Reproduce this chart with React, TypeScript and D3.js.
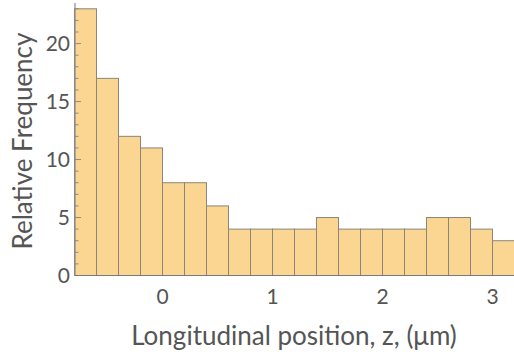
import React, { useRef, useEffect } from "react";
import * as d3 from "d3";

// bin left edges (µm) and counts
const binStarts = [-0.8, -0.6, -0.4, -0.2, 0, 0.2, 0.4, 0.6, 0.8, 1.0, 1.2, 1.4, 1.6, 1.8, 2.0, 2.2, 2.4, 2.6, 2.8, 3.0];
const counts = [23, 17, 12, 11, 8, 8, 6, 4, 4, 4, 4, 5, 4, 4, 4, 4, 5, 5, 4, 3];
const binWidth = 0.2;
const xTicks = [0, 1, 2, 3];
const yTicks = [0, 5, 10, 15, 20];

function App() {
    const svgRef = useRef<SVGSVGElement>(null);

    useEffect(() => {
        const width = 514, height = 355;
        const margin = { top: 3, right: 0, bottom: 78, left: 75 };
        const font = "Lato, 'Open Sans', sans-serif";
        const textColor = "#555";
        const axisColor = "#8a8a8a";

        const x = d3.scaleLinear()
            .domain([-0.8, 3.2])
            .range([margin.left - 0.5, width + 0.5]);

        const y = d3.scaleLinear()
            .domain([0, 23.5])
            .range([height - margin.bottom - 1.5, margin.top]);

        const svg = d3.select(svgRef.current);
        svg.selectAll("*").remove();
        svg.attr("width", width).attr("height", height);

        const data = binStarts.map((s, i) => ({ x0: s, x1: s + binWidth, n: counts[i] }));

        svg.append("g")
            .selectAll("rect")
            .data(data)
            .join("rect")
                .attr("x", d => x(d.x0))
                .attr("y", d => y(d.n))
                .attr("width", d => x(d.x1) - x(d.x0))
                .attr("height", d => y(0) - y(d.n))
                .attr("fill", "#fbd692")
                .attr("stroke", "#8c8578")
                .attr("stroke-width", 1);

        // y axis: line, minor ticks every 1, major every 5, pointing inward
        const ax = svg.append("g");
        ax.append("line")
            .attr("x1", margin.left).attr("x2", margin.left)
            .attr("y1", y(23.5)).attr("y2", y(0))
            .attr("stroke", axisColor).attr("stroke-width", 1.2);

        ax.selectAll(".minor")
            .data(d3.range(0, 24))
            .join("line")
                .attr("x1", margin.left)
                .attr("x2", d => margin.left + (d % 5 === 0 ? 6 : 3.5))
                .attr("y1", d => y(d))
                .attr("y2", d => y(d))
                .attr("stroke", axisColor)
                .attr("stroke-width", 1);

        ax.selectAll(".ylab")
            .data(yTicks)
            .join("text")
                .attr("x", margin.left - 5)
                .attr("y", d => y(d))
                .attr("dy", "0.36em")
                .attr("text-anchor", "end")
                .attr("font-family", font)
                .attr("font-size", 21)
                .attr("fill", textColor)
                .text(d => d);

        // x axis line
        ax.append("line")
            .attr("x1", margin.left).attr("x2", width)
            .attr("y1", y(0)).attr("y2", y(0))
            .attr("stroke", "#7a7a7a").attr("stroke-width", 1.2);

        ax.selectAll(".xlab")
            .data(xTicks)
            .join("text")
                .attr("x", d => x(d))
                .attr("y", y(0) + 28)
                .attr("text-anchor", "middle")
                .attr("font-family", font)
                .attr("font-size", 21)
                .attr("fill", textColor)
                .text(d => d);

        svg.append("text")
            .attr("x", 294)
            .attr("y", 345)
            .attr("text-anchor", "middle")
            .attr("font-family", font)
            .attr("font-size", 26)
            .attr("fill", textColor)
            .text("Longitudinal position, z, (\u03bcm)");

        svg.append("text")
            .attr("transform", "translate(32, 141) rotate(-90)")
            .attr("text-anchor", "middle")
            .attr("font-family", font)
            .attr("font-size", 26)
            .attr("fill", textColor)
            .text("Relative Frequency");
    }, []);

    return (
        <div style={{ position: "absolute", left: 0, top: 0 }}>
            <svg ref={svgRef}></svg>
        </div>
    );
}

export default App;
